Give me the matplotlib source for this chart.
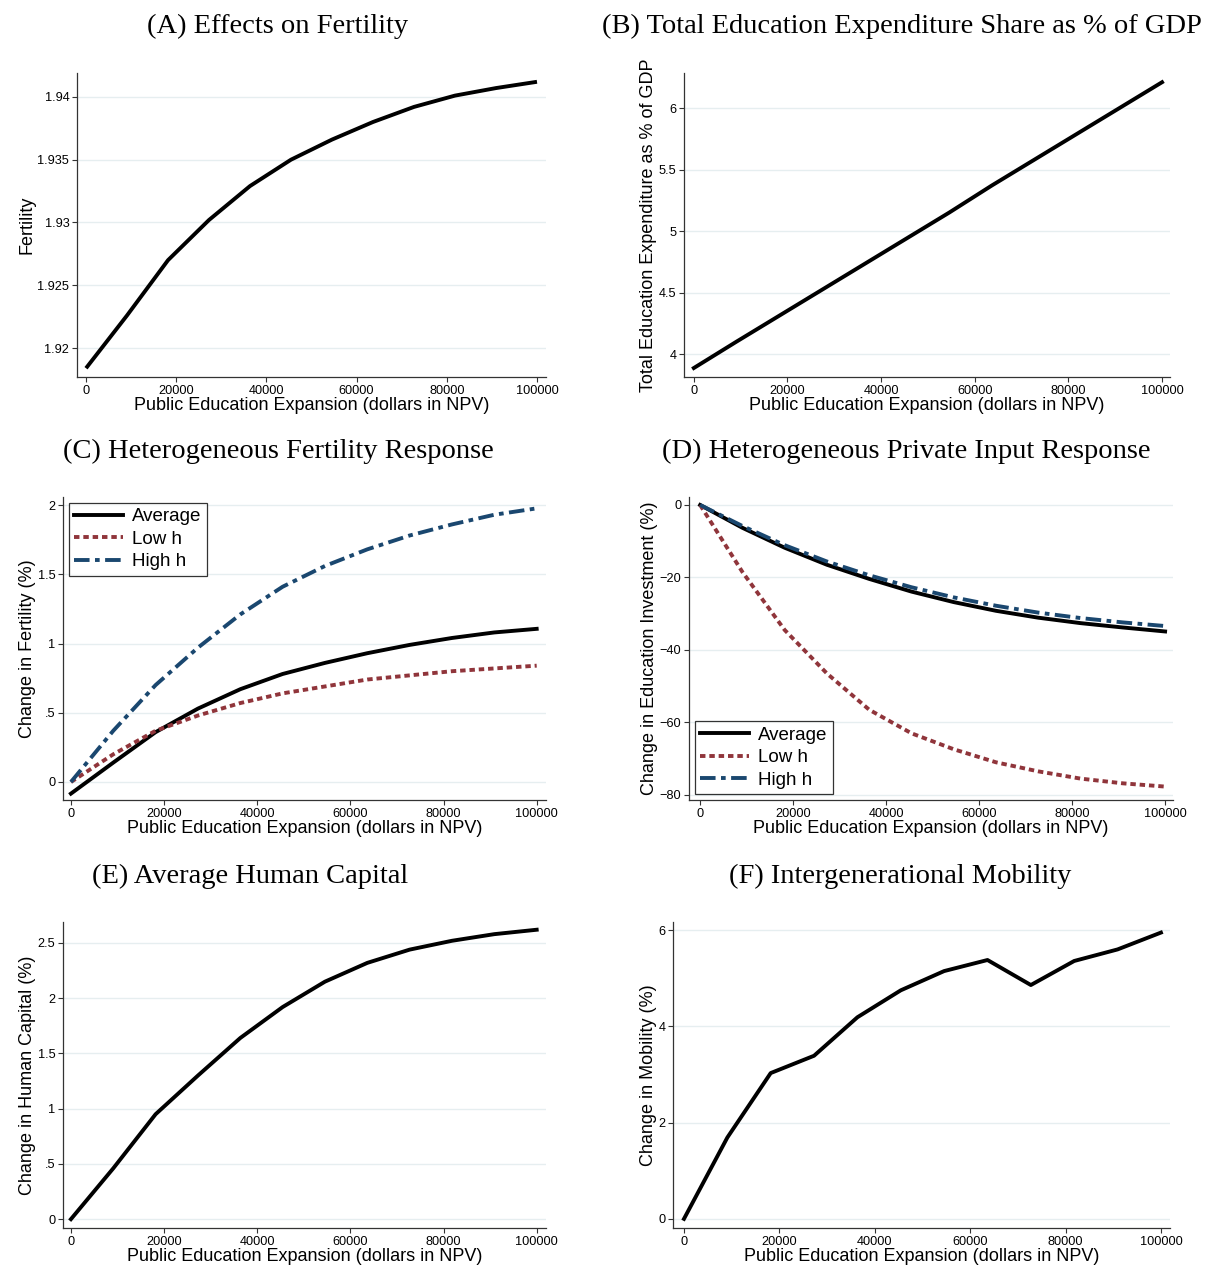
import numpy as np
import matplotlib
matplotlib.use("Agg")
import matplotlib.pyplot as plt

# simulation grid: public education expansion in NPV dollars
expansion = [0, 9091, 18182, 27273, 36364, 45455, 54545, 63636, 72727, 81818, 90909, 100000]

fertility = [1.9184, 1.9226, 1.9270, 1.9302, 1.9329, 1.9350, 1.9366, 1.9380, 1.9392, 1.9401, 1.9407, 1.9412]
edu_share_gdp = [3.886, 4.10, 4.31, 4.52, 4.73, 4.94, 5.15, 5.37, 5.58, 5.79, 6.00, 6.21]

fert_avg = [-0.084, 0.14, 0.36, 0.53, 0.67, 0.78, 0.86, 0.93, 0.99, 1.04, 1.08, 1.106]
fert_low = [0.0, 0.20, 0.37, 0.48, 0.57, 0.64, 0.69, 0.74, 0.77, 0.80, 0.82, 0.84]
fert_high = [0.0, 0.37, 0.70, 0.97, 1.21, 1.41, 1.56, 1.68, 1.78, 1.86, 1.93, 1.976]

inv_avg = [0, -6.3, -11.8, -16.5, -20.4, -23.9, -26.8, -29.2, -31.1, -32.6, -33.8, -34.9]
inv_low = [0, -18.5, -34.5, -46.5, -56.5, -63.0, -67.4, -71.0, -73.5, -75.5, -76.8, -77.7]
inv_high = [0, -5.8, -11.1, -15.6, -19.4, -22.7, -25.5, -27.8, -29.7, -31.2, -32.4, -33.4]

human_capital = [0.0, 0.46, 0.95, 1.30, 1.64, 1.92, 2.15, 2.32, 2.44, 2.52, 2.58, 2.62]
mobility = [0.0, 1.69, 3.03, 3.39, 4.19, 4.75, 5.15, 5.38, 4.86, 5.36, 5.60, 5.95]

x_ticks = [0, 20000, 40000, 60000, 80000, 100000]
x_ticklabels = ["0", "20000", "40000", "60000", "80000", "100000"]

W, H = 1209, 1268
plt.rcParams['font.family'] = ['Liberation Sans', 'DejaVu Sans']
fig = plt.figure(figsize=(W / 100, H / 100), dpi=100)

BLACK = "#000000"
CRANBERRY = "#90353b"
NAVY = "#1a476f"
GRID = "#e6eef0"
XLABEL = "Public Education Expansion (dollars in NPV)"


def make_axes(left, top, right, bottom):
    return fig.add_axes([left / W, 1 - bottom / H, (right - left) / W, (bottom - top) / H])


def style(ax, xlim, ylim, yticks, yticklabels, ylabel):
    ax.set_xlim(*xlim)
    ax.set_ylim(*ylim)
    ax.set_xticks(x_ticks)
    ax.set_xticklabels(x_ticklabels)
    ax.set_yticks(yticks)
    ax.set_yticklabels(yticklabels)
    ax.grid(axis='y', color=GRID, lw=1.0)
    ax.set_axisbelow(True)
    for s in ['top', 'right']:
        ax.spines[s].set_visible(False)
    for s in ['left', 'bottom']:
        ax.spines[s].set_color("#333333")
        ax.spines[s].set_linewidth(0.9)
    ax.tick_params(labelsize=9.2, length=3.5, width=0.8, color="#333333", pad=2)
    ax.set_xlabel(XLABEL, fontsize=13, labelpad=0)
    ax.set_ylabel(ylabel, fontsize=13, labelpad=1)


def title(x, y, s):
    fig.text(x / W, 1 - y / H, s, ha='center', va='center', fontsize=20.5,
             family=['Liberation Serif', 'DejaVu Serif'])


def legend(ax, loc):
    leg = ax.legend(loc=loc, fontsize=13.5, frameon=True, fancybox=False,
                    edgecolor=BLACK, handlelength=2.6, borderaxespad=0.3,
                    labelspacing=0.28, borderpad=0.3, handletextpad=0.5)
    leg.get_frame().set_linewidth(0.9)


LW = 2.8
SHORT = (0, (1.4, 1.0))
DASHDOT = (0, (4.0, 1.4, 1.2, 1.4))

# (A) fertility level
ax = make_axes(77, 73, 546, 377)
ax.plot(expansion, fertility, color=BLACK, lw=LW, solid_capstyle='butt')
style(ax, (-2000, 102000), (1.9177, 1.9419),
      [1.92, 1.925, 1.93, 1.935, 1.94], ["1.92", "1.925", "1.93", "1.935", "1.94"], "Fertility")
title(278, 26, "(A) Effects on Fertility")

# (B) total education expenditure
ax = make_axes(684, 73, 1170, 377)
ax.plot(expansion, edu_share_gdp, color=BLACK, lw=LW)
style(ax, (-2100, 101700), (3.813, 6.285),
      [4, 4.5, 5, 5.5, 6], ["4", "4.5", "5", "5.5", "6"],
      "Total Education Expenditure as % of GDP")
title(902, 26, "(B) Total Education Expenditure Share as % of GDP")

# (C) fertility response by parental human capital
ax = make_axes(63, 497, 546, 800)
ax.plot(expansion, fert_avg, color=BLACK, lw=LW, label="Average")
ax.plot(expansion, fert_low, color=CRANBERRY, lw=LW, ls=SHORT, label="Low h")
ax.plot(expansion, fert_high, color=NAVY, lw=LW, ls=DASHDOT, label="High h")
style(ax, (-1700, 102000), (-0.13, 2.058),
      [0, 0.5, 1, 1.5, 2], ["0", ".5", "1", "1.5", "2"], "Change in Fertility (%)")
legend(ax, 'upper left')
title(278, 451, "(C) Heterogeneous Fertility Response")

# (D) private input response
ax = make_axes(689, 497, 1173, 800)
ax.plot(expansion, inv_avg, color=BLACK, lw=LW, label="Average")
ax.plot(expansion, inv_low, color=CRANBERRY, lw=LW, ls=SHORT, label="Low h")
ax.plot(expansion, inv_high, color=NAVY, lw=LW, ls=DASHDOT, label="High h")
style(ax, (-2400, 101700), (-81.4, 2.2),
      [-80, -60, -40, -20, 0], ["\u221280", "\u221260", "\u221240", "\u221220", "0"],
      "Change in Education Investment (%)")
legend(ax, 'lower left')
title(906, 451, "(D) Heterogeneous Private Input Response")

# (E) average human capital
ax = make_axes(63, 922, 546, 1228)
ax.plot(expansion, human_capital, color=BLACK, lw=LW)
style(ax, (-1700, 102000), (-0.08, 2.69),
      [0, 0.5, 1, 1.5, 2, 2.5], ["0", ".5", "1", "1.5", "2", "2.5"],
      "Change in Human Capital (%)")
title(250, 876, "(E) Average Human Capital")

# (F) intergenerational mobility
ax = make_axes(673, 922, 1170, 1228)
ax.plot(expansion, mobility, color=BLACK, lw=LW)
style(ax, (-2300, 101900), (-0.19, 6.17),
      [0, 2, 4, 6], ["0", "2", "4", "6"], "Change in Mobility (%)")
title(900, 876, "(F) Intergenerational Mobility")

fig.savefig("out.png", dpi=100)
